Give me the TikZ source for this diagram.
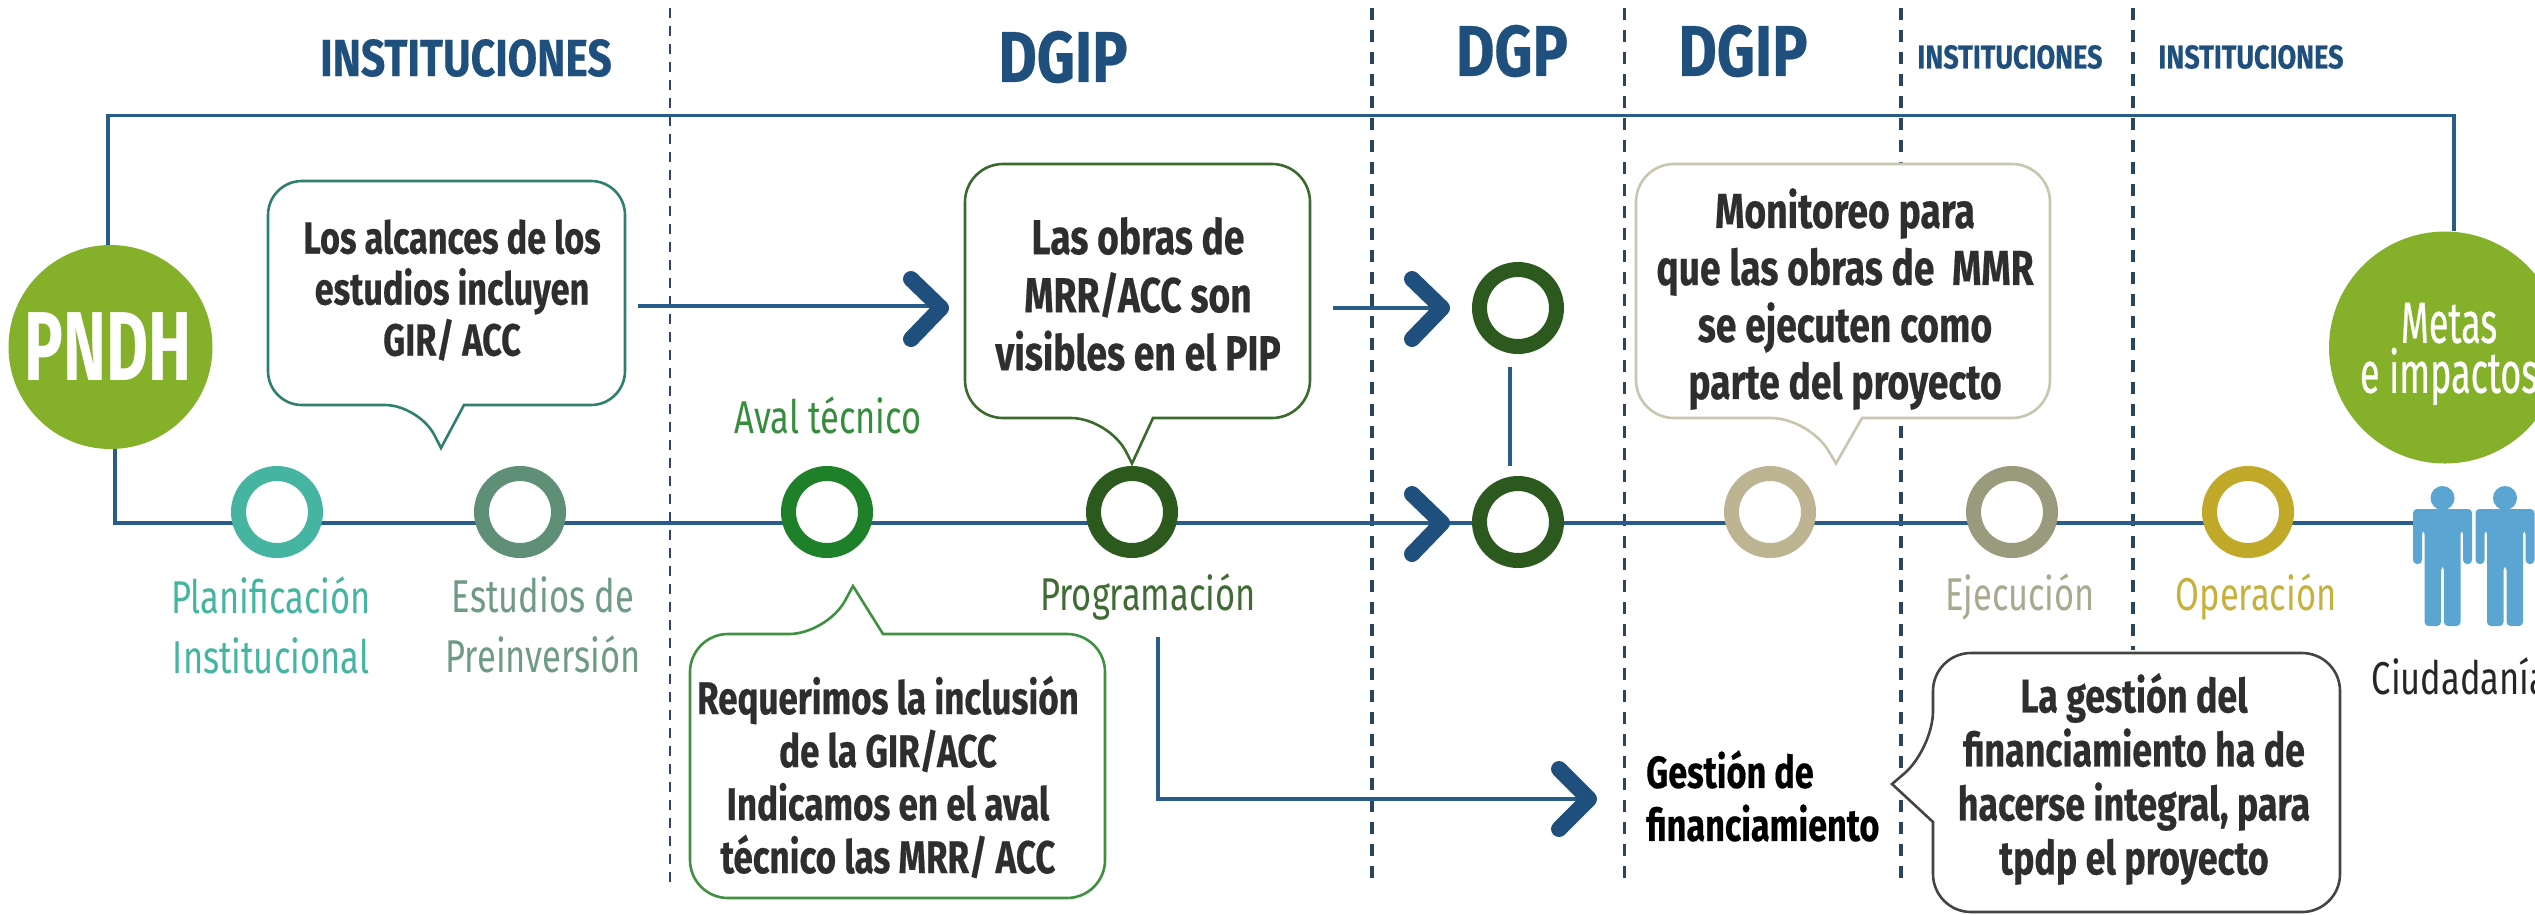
\documentclass[tikz,border=0pt]{standalone}
\usepackage{fontspec}
\setmainfont{Fira Sans}
\newfontfamily\bodyfont[FakeStretch=0.75]{Fira Sans}
\newfontfamily\boldbase[FakeStretch=0.76,BoldFeatures={FakeBold=0.4}]{Fira Sans}
\newfontfamily\headbase[FakeStretch=0.82,BoldFeatures={FakeBold=0.4}]{Fira Sans}
\newfontfamily\bigfont[FakeStretch=0.66]{Fira Sans}
\newfontfamily\metasfont[FakeStretch=0.62,FakeBold=0.4]{Fira Sans}
\definecolor{navy}{HTML}{1F4F7C}
\definecolor{flow}{HTML}{2A5C8A}
\definecolor{leaf}{HTML}{84B02A}
\definecolor{skyp}{HTML}{5BA5D2}
\definecolor{dashc}{HTML}{2B4560}
\definecolor{ringA}{HTML}{45B5A2}
\definecolor{ringB}{HTML}{5F8F76}
\definecolor{ringC}{HTML}{1E8028}
\definecolor{ringD}{HTML}{2C5A1E}
\definecolor{ringE}{HTML}{BDB592}
\definecolor{ringF}{HTML}{9A9A7C}
\definecolor{ringG}{HTML}{C0A828}
\definecolor{edgeA}{HTML}{2F7F70}
\definecolor{edgeB}{HTML}{3A6A2C}
\definecolor{edgeC}{HTML}{3F9040}
\definecolor{edgeD}{HTML}{C8C6AE}
\definecolor{edgeE}{HTML}{444444}
\tikzset{
  heading/.style={text=navy,inner sep=0pt},
  flowline/.style={draw=flow,line width=3.2pt},
  divider/.style={draw=dashc,line width=3.4pt,dash pattern=on 12pt off 10pt},
  thindivider/.style={draw=navy!80!violet,line width=1.5pt,dash pattern=on 10pt off 8pt},
  chevron/.style={draw=navy,line width=16pt,line cap=round,line join=round},
  ring/.style={circle,draw=#1,fill=white,line width=15pt,minimum size=77pt,inner sep=0pt,outer sep=0pt},
  bubble/.style={draw=#1,fill=white,line width=2.6pt},
  bubbletext/.style 2 args={align=center,inner sep=0pt,text=black!82,font=\boldbase\bfseries\fontsize{#1}{#2}\selectfont},
  steplabel/.style={text=#1,align=center,inner sep=0pt,font=\bodyfont\fontsize{46}{60}\selectfont},
  goal/.style={circle,fill=leaf,inner sep=0pt,minimum size=#1},
  person/.style={fill=skyp,rounded corners=4pt},
}
\newcommand{\persona}[2]{%
  \fill[person,shift={(#1,#2)}] (-29.5,11) -- (29.5,11) -- (29.5,66) -- (20.5,66) -- (20.5,32) -- (18,32) -- (18,128) -- (1.5,128) -- (1.5,68) -- (-1.5,68) -- (-1.5,128) -- (-18,128) -- (-18,32) -- (-20.5,32) -- (-20.5,66) -- (-29.5,66) -- cycle;
  \fill[skyp] (#1,#2) circle[radius=12pt];}
\begin{document}
\begin{tikzpicture}[x=1pt,y=-1pt]
\useasboundingbox (0,0) rectangle (2535,914);
\clip (0,0) rectangle (2535,914);
% dividers
\coordinate (d1a) at (670,8); \coordinate (d1b) at (670,883);
\coordinate (d2a) at (1372,8); \coordinate (d2b) at (1372,883);
\coordinate (d3a) at (1624.5,8); \coordinate (d3b) at (1624.5,883);
\coordinate (d4a) at (1901,8); \coordinate (d4b) at (1901,883);
\coordinate (d5a) at (2133,8); \coordinate (d5b) at (2133,650);
\draw[thindivider] (d1a) -- (d1b);
\draw[divider] (d2a) -- (d2b);
\draw[divider] (d3a) -- (d3b);
\draw[divider] (d4a) -- (d4b);
\draw[divider] (d5a) -- (d5b);
% headings
\node[heading,font=\headbase\bfseries\fontsize{52}{52}\selectfont] (h1) at (466,58) {INSTITUCIONES};
\node[heading,font=\headbase\bfseries\fontsize{72}{72}\selectfont] (h2) at (1063,57) {DGIP};
\node[heading,font=\headbase\bfseries\fontsize{72}{72}\selectfont] (h3) at (1512,51) {DGP};
\node[heading,font=\headbase\bfseries\fontsize{72}{72}\selectfont] (h4) at (1743,51) {DGIP};
\node[heading,font=\headbase\bfseries\fontsize{33}{33}\selectfont] (h5) at (2010,57) {INSTITUCIONES};
\node[heading,font=\headbase\bfseries\fontsize{33}{33}\selectfont] (h6) at (2251,57) {INSTITUCIONES};
% main flow
\coordinate (tl) at (108,115.5); \coordinate (tr) at (2454,115.5);
\coordinate (bl) at (115,523); \coordinate (br) at (2425,523);
\node[goal=204pt] (pndh) at (110.5,347) {};
\node[goal=232pt] (metas) at (2445,347.5) {};
\draw[flowline] (pndh.north -| tl) -- (tl) -- (tr) -- (metas.north -| tr);
\draw[flowline] (pndh.south -| bl) -- (bl) -- (br);
\node[text=white,inner sep=0pt,font=\bigfont\bfseries\fontsize{98}{98}\selectfont] (pndhT) at (108,347) {PNDH};
\node[text=white,inner sep=0pt,align=center,font=\metasfont\fontsize{58}{50}\selectfont] (metasT) at (2449,354) {Metas\\e impactos};
% rings
\node[ring=ringA] (r1) at (277,512) {};
\node[ring=ringB] (r2) at (520,512) {};
\node[ring=ringC] (r3) at (827,512) {};
\node[ring=ringD] (r4) at (1132,512) {};
\node[ring=ringD] (r5) at (1518,308) {};
\node[ring=ringD] (r6) at (1518,522) {};
\node[ring=ringE] (r7) at (1770,512) {};
\node[ring=ringF] (r8) at (2012,512) {};
\node[ring=ringG] (r9) at (2248,512) {};
% step labels
\node[steplabel=ringA] (l1) at (271,625) {Planificación\\Institucional};
\node[steplabel=ringB!90!white] (l2) at (543,625) {Estudios de\\Preinversión};
\node[steplabel=ringC!90!white] (l3) at (828,415) {Aval técnico};
\node[steplabel=ringD!90!white] (l4) at (1148,597) {Programación};
\node[steplabel=ringF!85!white] (l5) at (2020,597) {Ejecución};
\node[steplabel=ringG!90!white] (l6) at (2256,597) {Operación};
\node[steplabel=black!85] (l7) at (2460,676) {Ciudadanía};
% arrows
\coordinate (a1s) at (638,306); \coordinate (a1t) at (941,308);
\draw[flowline] (a1s) -- (a1s -| a1t);
\draw[chevron] (911,279) -- (a1t) -- (911,339);
\coordinate (a2s) at (1333,308); \coordinate (a2t) at (1442,308);
\draw[flowline] (a2s) -- (a2t);
\draw[chevron] (1412,279) -- (a2t) -- (1412,339);
\coordinate (a3t) at (1442,523);
\draw[chevron] (1412,494) -- (a3t) -- (1412,554);
\coordinate (a4s) at (1158,637); \coordinate (a4c) at (1158,799); \coordinate (a4t) at (1589,799);
\draw[flowline] (a4s) -- (a4c) -- (a4t);
\draw[chevron] (1559,769) -- (a4t) -- (1559,829);
\draw[flowline] (1510,367) -- (1510,466);
% bubbles
\draw[bubble=edgeA] (441,448) -- (464,405) [rounded corners=34pt] -- (625,405) -- (625,181) -- (268,181) -- (268,405) -- (419,405) [sharp corners] -- cycle;
\node[bubbletext={45}{51}] (c1) at (452,290) {Los alcances de los\\estudios incluyen\\GIR/ ACC};
\draw[bubble=edgeB] (1132,463.5) -- (1153,418) [rounded corners=38pt] -- (1310,418) -- (1310,164) -- (965,164) -- (965,418) -- (1109,418) [sharp corners] -- cycle;
\node[bubbletext={49}{58}] (c2) at (1138,294) {Las obras de\\MRR/ACC son\\visibles en el PIP};
\draw[bubble=edgeC] (853,586) -- (883,634) [rounded corners=38pt] -- (1105,634) -- (1105,898) -- (690,898) -- (690,634) -- (827,634) [sharp corners] -- cycle;
\node[bubbletext={46}{53}] (c3) at (888,777) {Requerimos la inclusión\\de la GIR/ACC\\Indicamos en el aval\\técnico las MRR/ ACC};
\draw[bubble=edgeD] (1836,463.5) -- (1862,418) [rounded corners=38pt] -- (2050,418) -- (2050,164) -- (1636,164) -- (1636,418) -- (1809,418) [sharp corners] -- cycle;
\node[bubbletext={49}{57}] (c4) at (1845,299) {Monitoreo para\\que las obras de\ \ MMR\\se ejecuten como\\parte del proyecto};
\draw[bubble=edgeE] (1892,784) -- (1933,822) [rounded corners=38pt] -- (1933,912) -- (2340,912) -- (2340,653) -- (1933,653) -- (1933,749) [sharp corners] -- cycle;
\node[bubbletext={47}{54}] (c5) at (2134,779) {La gestión del\\financiamiento ha de\\hacerse integral, para\\tpdp el proyecto};
% funding label
\node[anchor=west,align=left,inner sep=0pt,text=black,font=\boldbase\bfseries\fontsize{45}{53}\selectfont] (g1) at (1646,796) {Gestión de\\financiamiento};
% people
\persona{2442.5}{498}
\persona{2505}{498}
\end{tikzpicture}
\end{document}
